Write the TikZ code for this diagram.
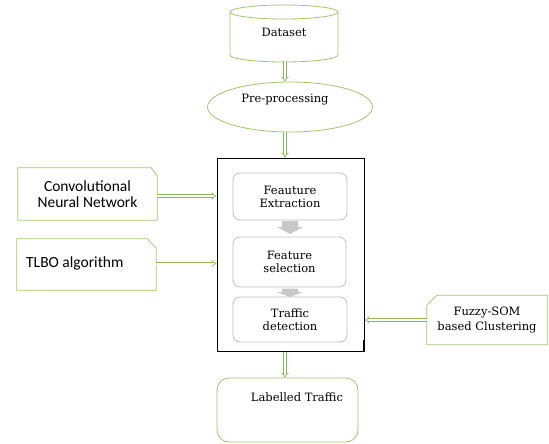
\documentclass[tikz,border=0pt]{standalone}
\usepackage{fontspec}
\newfontfamily\dvserif{DejaVu Serif}
\newfontfamily\calib{Carlito}
\usetikzlibrary{shapes.geometric,arrows.meta}

\definecolor{boxgreen}{RGB}{160,196,112}
\definecolor{arrowgreen}{RGB}{136,182,86}
\definecolor{innergray}{RGB}{190,190,190}
\definecolor{chevgray}{RGB}{200,200,200}

\tikzset{
  serif/.style={font=\dvserif\fontsize{11.5}{13}\selectfont},
  sans/.style={font=\calib\fontsize{15.5}{16.5}\selectfont},
  gbox/.style={draw=none, inner sep=0pt},
  outline/.style={draw=boxgreen, line width=0.8pt},
  innerbox/.style={draw=innergray, line width=0.8pt, rounded corners=7pt,
    inner sep=0pt, align=center, serif},
  flow/.style={draw=arrowgreen, line width=0.6pt, double=white,
    double distance=2pt, -{Implies}},
  chevron/.style={fill=chevgray, draw=none},
}

\begin{document}
\begin{tikzpicture}[x=1pt, y=-1pt]
\useasboundingbox (0,0) rectangle (549,444);

\coordinate (spine) at (285,0);

% Dataset (cylinder)
\node[gbox, minimum width=108pt, minimum height=57pt, serif] (dataset) at (284,32) {Dataset};
\draw[outline] (284,12) ellipse[x radius=54pt, y radius=7pt];
\draw[outline] (230,12) -- (230,55) arc[start angle=180, end angle=360, x radius=54pt, y radius=7pt] -- (338,12);

% Pre-processing (ellipse)
\node[ellipse, outline, minimum width=165pt, minimum height=50pt, inner sep=0pt] (pre) at (290,107) {};
\node[serif, inner sep=0pt] (pretext) at (285,99.5) {Pre-processing};

% Main processing block
\node[draw=black, line width=1pt, minimum width=147pt, minimum height=193pt, inner sep=0pt] (main) at (290.5,254.5) {};
\draw[line width=2.2pt] (364,340) -- (364,352);

\node[innerbox, minimum width=114pt, minimum height=47pt] (fe) at (290,196.5) {Feauture\\Extraction};
\node[innerbox, minimum width=113pt, minimum height=50pt] (fs) at (289.5,262) {Feature\\selection};
\node[innerbox, minimum width=114pt, minimum height=45pt] (td) at (290,319.5) {Traffic\\detection};

% Grey block arrows between the stages
\fill[chevron] (282,221) -- (298,221) -- (298,227) -- (303,227) -- (290,234)
  -- (277,227) -- (282,227) -- cycle;
\fill[chevron] (282,288.5) -- (298,288.5) -- (298,292) -- (303,292) -- (290,297)
  -- (277,292) -- (282,292) -- cycle;

% Side inputs
\node[gbox, minimum width=139pt, minimum height=52pt, sans, align=center] (cnn) at (87.5,194) {Convolutional\\[-1pt]Neural Network};
\draw[outline] (cnn.south west) -- (cnn.north west) -- ([xshift=-6pt]cnn.north east)
  -- ([yshift=-8pt]cnn.north east) -- (cnn.south east) -- cycle;

\node[gbox, minimum width=139pt, minimum height=51pt] (tlbo) at (86.5,264.5) {};
\node[sans, inner sep=0pt, anchor=west] (tlbotext) at (26,263) {TLBO algorithm};
\draw[outline] (tlbo.south west) -- (tlbo.north west) -- ([xshift=-9pt]tlbo.north east)
  -- ([yshift=-9pt]tlbo.north east) -- (tlbo.south east) -- cycle;

\node[gbox, minimum width=120pt, minimum height=49pt, serif, align=center] (fuzzy) at (487,320) {Fuzzy-SOM\\[2pt]based Clustering};
\draw[outline] ([yshift=-10pt]fuzzy.north west) -- ([xshift=10pt]fuzzy.north west)
  -- (fuzzy.north east) -- (fuzzy.south east) -- (fuzzy.south west) -- cycle;

% Output
\node[draw=boxgreen, line width=0.8pt, rounded corners=12pt, minimum width=141pt, minimum height=64pt] (lab) at (287.5,410) {};
\node[serif, inner sep=0pt] (labtext) at (297,397) {Labelled Traffic};

% Connectors
\draw[flow] (dataset.south -| spine) -- (pre.north -| spine);
\draw[flow] (pre.south -| spine) -- (main.north -| spine);
\draw[flow] (main.south -| spine) -- (lab.north -| spine);
\draw[flow] ([yshift=-2pt]cnn.east) -- ([yshift=-2pt]cnn.east -| main.west);
\draw[flow] ([yshift=1pt]tlbo.east) -- ([yshift=1pt]tlbo.east -| main.west);
\draw[flow] (fuzzy.west) -- (fuzzy.west -| main.east);
\end{tikzpicture}
\end{document}
